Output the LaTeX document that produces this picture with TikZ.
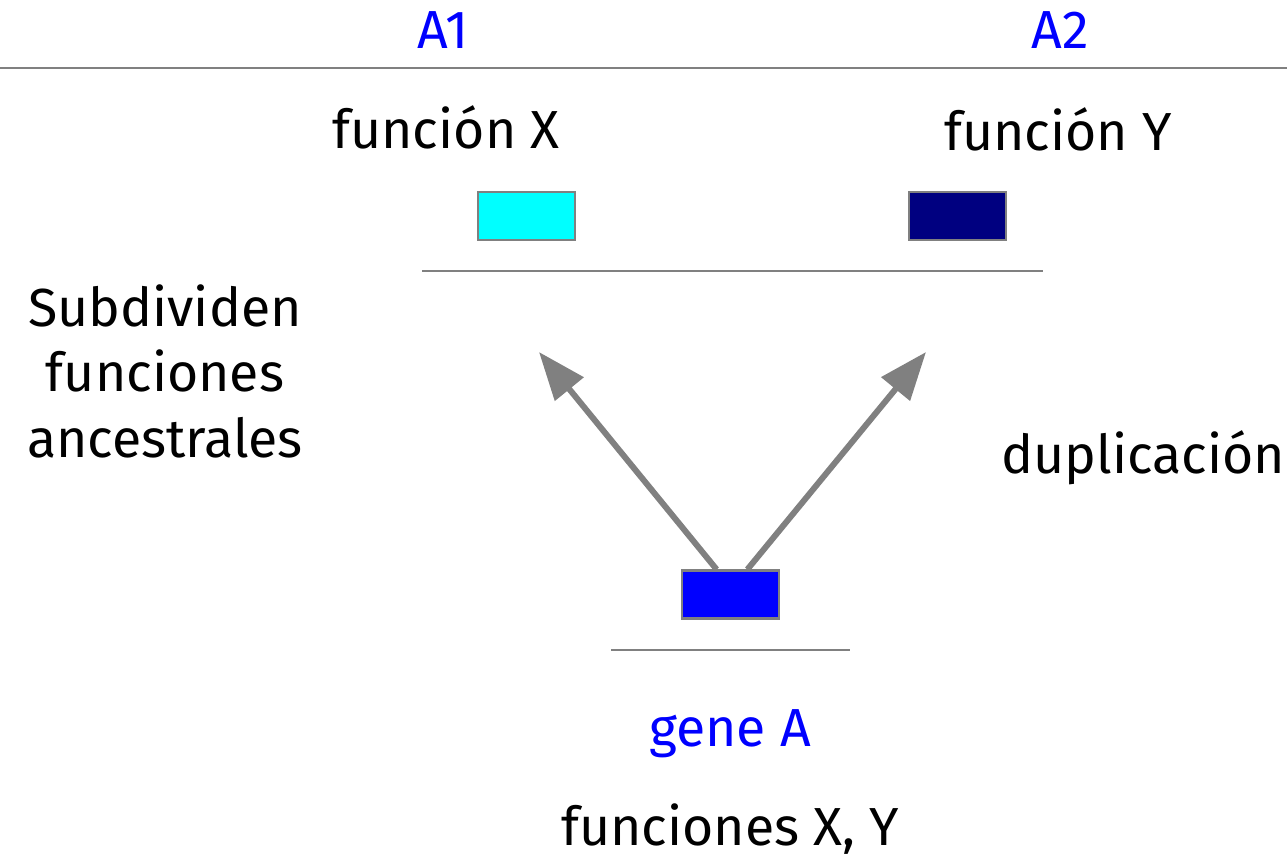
\documentclass[tikz,border=0pt]{standalone}
\usepackage{fontspec}
\setmainfont{Fira Sans}
\usetikzlibrary{calc, arrows.meta}

\definecolor{lineagray}{HTML}{808080}
\definecolor{genblue}{HTML}{0000FF}
\definecolor{genaqua}{HTML}{00FFFF}
\definecolor{gennavy}{HTML}{000080}

\tikzset{
  genbox/.style={draw=lineagray, line width=1.2pt, minimum width=1.94cm,
                 minimum height=0.96cm, inner sep=0pt},
  txt/.style={inner sep=0pt, anchor=base, font=\fontsize{30.5}{37}\selectfont},
  cromo/.style={lineagray, line width=1.1pt},
  dup/.style={lineagray, line width=3.4pt,
              -{Triangle[length=0.96cm, width=0.72cm]}}
}

\begin{document}
\begin{tikzpicture}[x=0.02cm, y=-0.02cm]
                \useasboundingbox (0,0) rectangle (1287,858);
                % top: the two copies
                \node[txt, text=genblue] (labA1) at (443,49) {A1};
                \node[txt, text=genblue] (labA2) at (1060,49) {A2};
                \draw[cromo] (0,68) -- (1287,68);
                \node[txt] (funX) at (446,149) {función X};
                \node[txt] (funY) at (1058,151) {función Y};
                \node[genbox, fill=genaqua] (copyone) at (526.5,216) {};
                \node[genbox, fill=gennavy] (copytwo) at (957.5,216) {};
                \draw[cromo] (422,271) -- (1028,271);
                \draw[cromo] (604,271) -- (1043,271);
                % side labels (base = last line)
                \node[txt, align=center] (subdiv) at (165,457)
                    {Subdividen\\funciones\\ancestrales};
                \node[txt] (dupl) at (1143,473) {duplicación};
                % ancestral gene
                \node[genbox, fill=genblue] (geneA) at (730.5,594.5) {};
                \draw[cromo] (611,650) -- (850,650);
                \node[txt, text=genblue] (labgene) at (730,746) {gene A};
                \node[txt] (funXY) at (730,845) {funciones X, Y};
                % duplication arrows
                \coordinate (tipone) at (539,352);
                \coordinate (tiptwo) at (926,352);
                \draw[dup] ($(geneA.north west)!0.36!(geneA.north east)$) -- (tipone);
                \draw[dup] ($(geneA.north west)!0.67!(geneA.north east)$) -- (tiptwo);
            \end{tikzpicture}
\end{document}
